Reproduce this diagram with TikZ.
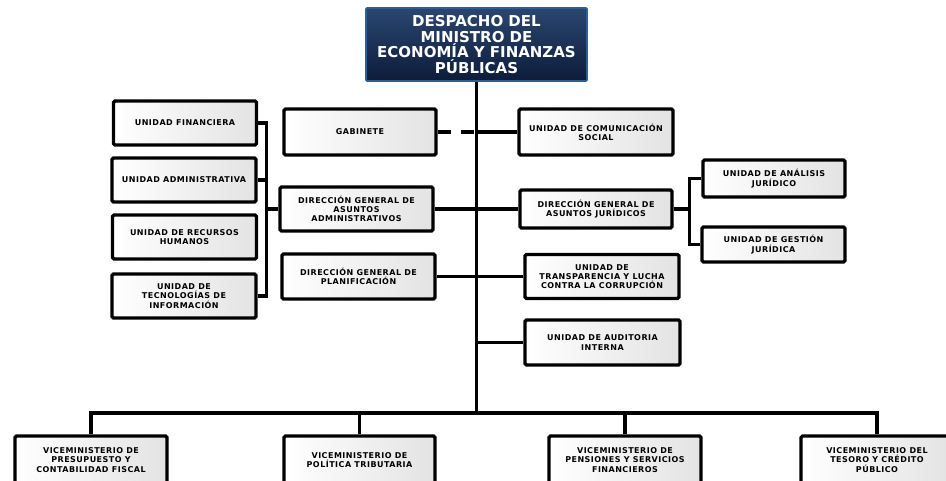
\documentclass[tikz,border=0pt]{standalone}
\usepackage{fontspec}
\setmainfont{DejaVu Sans}
\newfontfamily\orgfont[LetterSpace=6]{DejaVu Sans}
\definecolor{navydark}{HTML}{0E1C3A}
\definecolor{navylight}{HTML}{2A4670}
\definecolor{navyrim}{HTML}{2E5E94}
\begin{document}
\begin{tikzpicture}[x=1pt,y=-1pt,
  unitbox/.style={draw=black,line width=3.2pt,rounded corners=1.5pt,left color=white,right color=black!11,align=center,inner sep=1pt,font=\orgfont\bfseries\fontsize{8}{9.2}\selectfont},
  headbox/.style={draw=navyrim,line width=1.6pt,rounded corners=1pt,top color=navylight,bottom color=navydark,text=white,align=center,font=\bfseries\fontsize{15}{15.6}\selectfont,minimum width=221pt,minimum height=73pt},
  link/.style={line width=3.4pt,black}]
\useasboundingbox (0,0) rectangle (946,480);
\clip (0,0) rectangle (946,480);

% Minister's office
\node[headbox] (desp) at (476.5,44.5) {DESPACHO DEL\\MINISTRO DE\\ECONOMÍA Y FINANZAS\\PÚBLICAS};

% Units on the left
\node[unitbox,minimum width=143pt,minimum height=44pt] (ufin) at (185,123) {UNIDAD FINANCIERA};
\node[unitbox,minimum width=144pt,minimum height=44pt] (uadm) at (184,180) {UNIDAD ADMINISTRATIVA};
\node[unitbox,minimum width=144pt,minimum height=44pt] (urrhh) at (184.5,237) {UNIDAD DE RECURSOS\\HUMANOS};
\node[unitbox,minimum width=144pt,minimum height=44pt] (utic) at (184,296) {UNIDAD DE\\TECNOLOGÍAS DE\\INFORMACIÓN};

% Middle column
\node[unitbox,minimum width=152pt,minimum height=46pt] (gab) at (360,132) {GABINETE};
\node[unitbox,minimum width=153pt,minimum height=44pt] (dgaa) at (356.5,209) {DIRECCIÓN GENERAL DE\\ASUNTOS\\ADMINISTRATIVOS};
\node[unitbox,minimum width=153pt,minimum height=45pt] (dgpl) at (358.5,276.5) {DIRECCIÓN GENERAL  DE\\PLANIFICACIÓN};

% Right column
\node[unitbox,minimum width=154pt,minimum height=46pt] (ucom) at (596,132) {UNIDAD DE COMUNICACIÓN\\SOCIAL};
\node[unitbox,minimum width=152pt,minimum height=38pt] (dgaj) at (596,209) {DIRECCIÓN  GENERAL DE\\ASUNTOS JURÍDICOS};
\node[unitbox,minimum width=154pt,minimum height=44pt] (utra) at (602,276.5) {UNIDAD DE\\TRANSPARENCIA Y LUCHA\\CONTRA LA CORRUPCIÓN};
\node[unitbox,minimum width=155pt,minimum height=45pt] (uai) at (602.5,342.5) {UNIDAD  DE AUDITORIA\\INTERNA};

% Legal units
\node[unitbox,minimum width=142pt,minimum height=37pt] (uaj) at (774,178.5) {UNIDAD DE ANÁLISIS\\JURÍDICO};
\node[unitbox,minimum width=143pt,minimum height=35pt] (ugj) at (773.5,244.5) {UNIDAD DE GESTIÓN\\JURÍDICA};

% Vice-ministries
\node[unitbox,minimum width=152pt,minimum height=48pt] (vpre) at (91,460) {VICEMINISTERIO DE\\PRESUPUESTO Y\\CONTABILIDAD FISCAL};
\node[unitbox,minimum width=151pt,minimum height=48pt] (vpol) at (359.5,460) {VICEMINISTERIO DE\\POLÍTICA TRIBUTARIA};
\node[unitbox,minimum width=152pt,minimum height=48pt] (vpen) at (625,460) {VICEMINISTERIO DE\\PENSIONES Y SERVICIOS\\FINANCIEROS};
\node[unitbox,minimum width=152pt,minimum height=48pt] (vtes) at (877,460) {VICEMINISTERIO DEL\\TESORO Y CRÉDITO\\PÚBLICO};

\coordinate (bus) at (476.5,413);
\coordinate (lbr) at (266.5,209);
\coordinate (rbr) at (689.5,209);

% Trunk and bus
\draw[link] (desp.south) -- (bus);
\draw[link] (vpre.north) |- (vtes.north |- bus) -- (vtes.north);
\draw[link] (vpol.north) -- (vpol.north |- bus);
\draw[link] (vpen.north) -- (vpen.north |- bus);

% Branches off the trunk
\draw[link,dash pattern=on 13pt off 10pt] (gab.east) -- (gab.east -| desp.south);
\draw[link] (desp.south |- ucom.west) -- (ucom.west);
\draw[link] (dgaa.east) -- (dgaj.west);
\draw[link] (dgpl.east) -- (utra.west);
\draw[link] (desp.south |- uai.west) -- (uai.west);

% Brackets
\draw[link] (ufin.east) -- (ufin.east -| lbr) -- (utic.east -| lbr) -- (utic.east);
\draw[link] (uadm.east) -- (uadm.east -| lbr);
\draw[link] (lbr) -- (dgaa.west);
\draw[link] (uaj.west) -- (uaj.west -| rbr) -- (ugj.west -| rbr) -- (ugj.west);
\draw[link] (dgaj.east) -- (rbr);

\end{tikzpicture}
\end{document}
